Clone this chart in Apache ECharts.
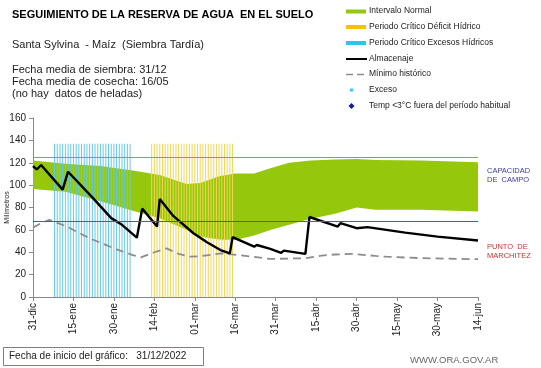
<!DOCTYPE html>
<html>
<head>
<meta charset="utf-8">
<script src="https://cdn.jsdelivr.net/npm/echarts@6/dist/echarts.min.js"></script>
<style>
html,body{margin:0;padding:0;background:#fff;}
#c{width:541px;height:368px;}
</style>
</head>
<body>
<div id="c"></div>
<script>
// ---- Data (days since 31-dic) ----
var tickLabels = ['31-dic','15-ene','30-ene','14-feb','01-mar','16-mar','31-mar','15-abr','30-abr','15-may','30-may','14-jun'];

var bandDays  = [0, 12, 25, 37, 47, 57, 62, 69, 75, 82, 88, 95, 103, 112, 120, 127, 144, 165];
var bandUpper = [122, 119, 117, 113, 109, 101, 102, 108, 110.5, 110.5, 115, 120, 122, 123, 123.4, 122.5, 122, 120.5];
var bandLower = [96.5, 94, 85.5, 77, 70.5, 60, 54, 51.5, 51, 55, 60, 64.5, 70, 74.5, 80, 78, 78, 76.5];

var almDays   = [0, 1.4, 3, 11, 13, 22, 29, 33, 38.5, 40.5, 46, 47, 52, 59.5, 64.5, 69.5, 73, 74, 82, 83, 88, 92, 93, 101, 102.5, 113, 114, 120, 124, 138, 150, 165];
var almValues = [117, 114, 118, 96, 112, 89, 70.5, 64.5, 53, 79, 63, 87.5, 72.5, 57, 49, 42, 39, 53.5, 45, 46.5, 43, 39.5, 41.5, 38.5, 71.5, 63, 66, 61.5, 62.5, 57.5, 54, 50.5];

var minDays   = [0, 3, 6, 12.5, 21, 30, 37, 40, 45, 49.5, 54, 58, 62, 70, 78, 88, 101, 107, 112, 119, 127, 131, 144, 165];
var minValues = [62, 66, 69, 63, 52.5, 43.5, 37.5, 35.5, 40, 43.5, 38.5, 36, 36.5, 39, 37, 34, 34.7, 37, 38, 38.5, 36.7, 36, 34.7, 33.8];

var excessDays  = [8,9,10,11,12,13,14,15,16,17,18,19,20,21,22,23,24,25,26,27,28,29,30,31,32,33,34,35,36];
var deficitDays = [44,45,46,47,48,49,50,51,52,53,54,55,56,57,58,59,60,61,62,63,64,65,66,67,68,69,70,71,72,73,74];
var criticalBarHeight = 137;

var fieldCapacity = 125;
var wiltingPoint = 68;

// ---- build library data ----
function pairs(xs, ys){ return xs.map(function(x,i){ return [x, ys[i]]; }); }
var bandData = bandDays.map(function(d,i){ return [d, bandLower[i], bandUpper[i]]; });

var FONT = '"Liberation Sans", Arial, sans-serif';
var chart = echarts.init(document.getElementById('c'), null, {renderer:'canvas'});

var legendX = 346, textX = 369;
function legendText(y, txt){
  return {type:'text', left: textX, top: y - 5, style:{text: txt, fontSize: 8.5, fontFamily: FONT, fill:'#222', textVerticalAlign:'top'}};
}

function renderBand(params, api){
  if (params.dataIndex !== 0) return null;
  var top = [], bottom = [];
  for (var i = 0; i < bandData.length; i++) {
    top.push(api.coord([bandData[i][0], bandData[i][2]]));
    bottom.push(api.coord([bandData[i][0], bandData[i][1]]));
  }
  var pts = top.concat(bottom.reverse());
  return {type: 'polygon', shape: {points: pts}, style: {fill: '#95c80c'}};
}

chart.setOption({
  animation: false,
  backgroundColor: '#fff',
  grid: {left: 33, right: 63, top: 118, bottom: 71, containLabel: false, outerBoundsMode: 'none'},
  xAxis: {
    type: 'value', min: 0, max: 165, interval: 15,
    axisLine: {show: true, lineStyle: {color: '#888', width: 1}},
    axisTick: {show: true, length: 4, lineStyle: {color: '#888'}},
    splitLine: {show: false},
    axisLabel: {rotate: 90, fontSize: 10, fontFamily: FONT, color: '#222', margin: 6,
      formatter: function(v){ return tickLabels[Math.round(v/15)] || ''; }}
  },
  yAxis: {
    type: 'value', min: 0, max: 160, interval: 20,
    name: 'Milímetros', nameLocation: 'middle', nameRotate: 90, nameGap: 22, nameMoveOverlap: false,
    nameTextStyle: {fontSize: 7, fontFamily: FONT, color: '#222'},
    axisLine: {show: true, lineStyle: {color: '#888', width: 1}},
    axisTick: {show: true, length: 4, lineStyle: {color: '#888'}},
    splitLine: {show: false},
    axisLabel: {fontSize: 10, fontFamily: FONT, color: '#222', margin: 7}
  },
  series: [
    {name: 'Intervalo Normal', type: 'custom', coordinateSystem: 'cartesian2d',
     data: bandData, renderItem: renderBand, silent: true,
     encode: {x: 0, y: [1, 2]}},
    {name: 'Periodo Crítico Excesos Hídricos', type: 'bar', barWidth: 1,
     data: excessDays.map(function(d){ return [d, criticalBarHeight]; }),
     itemStyle: {color: '#62cbeb'}},
    {name: 'Periodo Crítico Déficit Hídrico', type: 'bar', barWidth: 1, barGap: '-100%',
     data: deficitDays.map(function(d){ return [d, criticalBarHeight]; }),
     itemStyle: {color: '#f4d654'}},
    {name: 'Mínimo histórico', type: 'line', data: pairs(minDays, minValues), symbol: 'none',
     lineStyle: {color: '#8c8c8c', width: 1.8, type: [8, 5]},
     markLine: {silent: true, symbol: ['none','none'], label: {show: false},
       data: [
         {yAxis: fieldCapacity, lineStyle: {color: '#8193c6', width: 1.2, type: 'solid'}},
         {yAxis: wiltingPoint, lineStyle: {color: '#c8342c', width: 1, type: 'solid'}}
       ]}},
    {name: 'Almacenaje', type: 'line', data: pairs(almDays, almValues), symbol: 'none',
     lineStyle: {color: '#000', width: 2.4}}
  ],
  graphic: [
    {type:'text', left: 12, top: 9, style:{text:'SEGUIMIENTO DE LA RESERVA DE AGUA  EN EL SUELO', fontSize: 11, fontWeight:'bold', fontFamily: FONT, fill:'#000'}},
    {type:'text', left: 12, top: 39, style:{text:'Santa Sylvina  - Maíz  (Siembra Tardía)', fontSize: 11, fontFamily: FONT, fill:'#222'}},
    {type:'text', left: 12, top: 64, style:{text:'Fecha media de siembra: 31/12', fontSize: 11, fontFamily: FONT, fill:'#222'}},
    {type:'text', left: 12, top: 76, style:{text:'Fecha media de cosecha: 16/05', fontSize: 11, fontFamily: FONT, fill:'#222'}},
    {type:'text', left: 12, top: 88, style:{text:'(no hay  datos de heladas)', fontSize: 11, fontFamily: FONT, fill:'#222'}},
    // legend
    {type:'rect', shape:{x: legendX, y: 9.5, width: 20, height: 4}, style:{fill:'#95c80c'}},
    legendText(11.5, 'Intervalo Normal'),
    {type:'rect', shape:{x: legendX, y: 25, width: 20, height: 4}, style:{fill:'#ffc000'}},
    legendText(27, 'Periodo Crítico Déficit Hídrico'),
    {type:'rect', shape:{x: legendX, y: 41, width: 20, height: 4}, style:{fill:'#2ec4ee'}},
    legendText(43, 'Periodo Crítico Excesos Hídricos'),
    {type:'line', shape:{x1: legendX, y1: 59, x2: legendX + 21, y2: 59}, style:{stroke:'#000', lineWidth: 2}},
    legendText(59, 'Almacenaje'),
    {type:'line', shape:{x1: legendX, y1: 74.5, x2: legendX + 21, y2: 74.5}, style:{stroke:'#8c8c8c', lineWidth: 1.5, lineDash:[7,4]}},
    legendText(74.5, 'Mínimo histórico'),
    {type:'rect', shape:{x: legendX + 4, y: 88.5, width: 3, height: 3}, style:{fill:'#33ccff'}},
    legendText(90, 'Exceso'),
    {type:'polygon', shape:{points:[[legendX+5.5,103],[legendX+8.5,106],[legendX+5.5,109],[legendX+2.5,106]]}, style:{fill:'#1a1aa0'}},
    legendText(106, 'Temp <3°C fuera del período habitual'),
    // right labels
    {type:'text', left: 487, top: 166, style:{text:'CAPACIDAD\nDE  CAMPO', fontSize: 7.5, lineHeight: 9, fontFamily: FONT, fill:'#3a3aa8'}},
    {type:'text', left: 487, top: 242, style:{text:'PUNTO  DE\nMARCHITEZ', fontSize: 7.5, lineHeight: 9, fontFamily: FONT, fill:'#c8342c'}},
    // bottom
    {type:'rect', shape:{x: 3.5, y: 347.5, width: 200, height: 18}, style:{fill:'#fff', stroke:'#8a7a7a', lineWidth: 1}},
    {type:'text', left: 9, top: 351.5, style:{text:'Fecha de inicio del gráfico:   31/12/2022', fontSize: 10, fontFamily: FONT, fill:'#222'}},
    {type:'text', left: 410, top: 355, style:{text:'WWW.ORA.GOV.AR', fontSize: 9.5, fontFamily: FONT, fill:'#666'}}
  ]
});
</script>
</body>
</html>
